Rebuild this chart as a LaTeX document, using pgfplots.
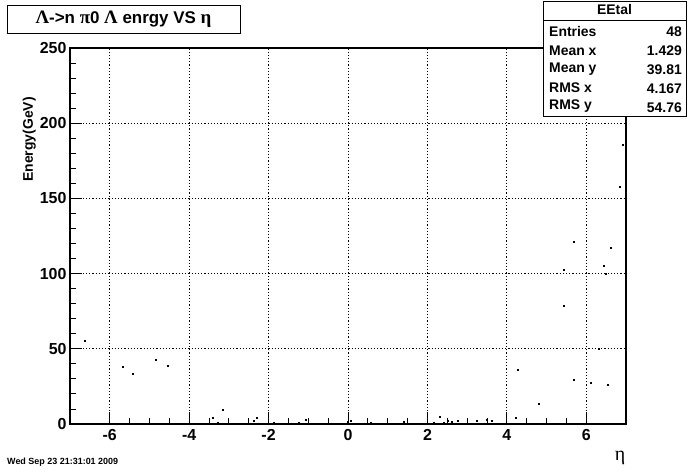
\documentclass[border=0pt]{standalone}
\usepackage{fontspec}
\setmainfont{Liberation Sans}
\newfontfamily\greek{Liberation Serif}
\usepackage{pgfplots}
\pgfplotsset{compat=1.18}

\begin{document}
\begin{tikzpicture}[x=1bp,y=1bp]
\useasboundingbox (0,0) rectangle (696,472);
\begin{axis}[
  at={(70bp,48bp)}, anchor=south west,
  scale only axis, width=556bp, height=376bp,
  xmin=-7, xmax=7, ymin=0, ymax=250,
  xtick={-6,-4,...,6}, ytick={0,50,...,250},
  minor x tick num=3, minor y tick num=4,
  tick align=inside, tick pos=left,
  major tick length=12bp, minor tick length=6bp,
  tick style={black, line width=0.9bp},
  axis line style={line width=1.2bp},
  grid=major,
  grid style={black, line width=0.8bp, dash pattern=on 1.2bp off 2bp},
  /pgf/number format/assume math mode=true,
  ticklabel style={font=\fontsize{16}{16}\selectfont\bfseries},
  xticklabel style={yshift=-2bp},
]
\addplot[only marks, mark=square*, mark size=0.5bp, black] table {
x y
-6.63 55.6
-5.68 38.4
-5.43 33.7
-4.84 43.0
-4.55 39.0
-3.41 4.0
-3.29 1.1
-3.16 9.3
-2.38 2.5
-2.31 4.0
-1.88 1.1
-1.25 1.1
-1.07 3.1
0.00 1.5
0.07 2.0
0.57 1.1
1.39 1.8
2.15 1.1
2.32 5.1
2.40 1.1
2.50 2.5
2.62 1.8
2.75 2.5
3.23 2.5
3.50 3.1
3.63 2.5
4.23 4.4
4.79 13.7
6.91 186.0
6.85 158.0
5.69 121.5
6.62 117.5
5.44 102.9
6.45 105.5
6.49 100.2
5.42 78.9
6.32 49.9
4.26 36.4
5.69 29.7
6.10 27.7
6.55 26.4
};
\end{axis}
% axis titles
\node[rotate=90, anchor=south east, inner sep=0pt, font=\fontsize{14}{14}\selectfont\bfseries] at (36,375) {Energy(GeV)};
\node[anchor=center, inner sep=0pt, font=\fontsize{20}{20}\selectfont\greek] at (620,14) {η};
% title box
\draw[line width=0.8bp, fill=white] (7,439) rectangle (240,467);
\node[anchor=center, inner sep=0pt, font=\fontsize{17}{17}\selectfont\bfseries] at (123.5,453)
  {{\greek\fontsize{19}{19}\selectfont Λ}->n {\greek\fontsize{19}{19}\selectfont π}0 {\greek\fontsize{19}{19}\selectfont Λ} enrgy VS {\greek\fontsize{19}{19}\selectfont η}};
% stats box
\draw[line width=0.8bp, fill=white] (543,356) rectangle (686,471);
\draw[line width=0.8bp] (543,452) -- (686,452);
\begin{scope}[font=\fontsize{14}{14}\selectfont\bfseries, inner sep=0pt]
\node[anchor=center] at (614.5,462) {EEtal};
\node[anchor=west] at (549,440) {Entries};
\node[anchor=east] at (682,440) {48};
\node[anchor=west] at (549,421) {Mean x};
\node[anchor=east] at (682,421) {1.429};
\node[anchor=west] at (549,403) {Mean y};
\node[anchor=east] at (682,402) {39.81};
\node[anchor=west] at (549,384) {RMS x};
\node[anchor=east] at (682,383) {4.167};
\node[anchor=west] at (549,366) {RMS y};
\node[anchor=east] at (682,364) {54.76};
\end{scope}
% date
\node[anchor=west, inner sep=0pt, font=\fontsize{9}{9}\selectfont\bfseries] at (7,10) {Wed Sep 23 21:31:01 2009};
\end{tikzpicture}
\end{document}
